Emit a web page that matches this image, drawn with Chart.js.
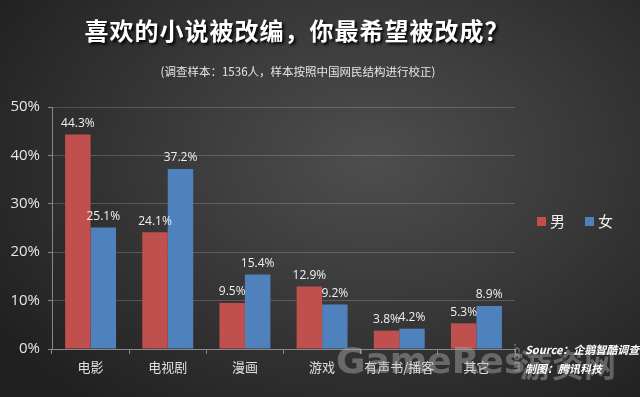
<!DOCTYPE html>
<html>
<head>
<meta charset="utf-8">
<script src="https://cdn.jsdelivr.net/npm/chart.js@4"></script>
<style>
  html, body { margin: 0; padding: 0; }
  body {
    width: 640px; height: 397px; overflow: hidden; position: relative;
    background: radial-gradient(ellipse 70% 80% at 58% 40%, #4e4e4e 0%, #3a3a3a 45%, #202020 100%);
    font-family: "Noto Sans CJK SC", "Noto Sans", sans-serif;
  }
  #wrap { position: absolute; left: 0; top: 0; width: 640px; height: 397px; }
  .title {
    position: absolute; left: 0; width: 594px; top: 12px; text-align: center;
    color: #fff; font-size: 24px; font-weight: bold; letter-spacing: 1px; text-shadow: 2px 2px 3px #000;
  }
  .sub {
    position: absolute; left: 0; width: 596px; top: 63px; text-align: center;
    color: #e6e6e6; font-size: 11.5px;
  }
  .legend { position: absolute; top: 210px; left: 537px; color: #eee; font-size: 15px; }
  .legend span.box { display: inline-block; width: 9px; height: 9px; margin-right: 4px; vertical-align: 1px; }
  .src { position: absolute; left: 525px; color: #fff; font-size: 11px; font-style: italic; font-weight: bold; }
  .wm { position: absolute; color: rgba(190,190,190,0.4); font-family: "DejaVu Sans", sans-serif; font-weight: bold; }
</style>
</head>
<body>
<div id="wrap"><canvas id="myChart" width="640" height="397"></canvas></div>
<div class="title">喜欢的小说被改编，你最希望被改成？</div>
<div class="sub">(调查样本：1536人，样本按照中国网民结构进行校正)</div>
<div class="legend"><span class="box" style="background:#c0504d"></span>男<span style="display:inline-block;width:20px"></span><span class="box" style="background:#4f81bd"></span>女</div>
<div class="wm" style="left:336px; top:340px; font-size:36px;">GameRes</div>
<div class="wm" style="left:503px; top:351px; font-size:11px; transform:rotate(90deg);">.com</div>
<div class="wm" style="left:520px; top:340px; font-size:32px; font-family:'Noto Sans CJK SC';">游资网</div>
<div class="src" style="top:341px;">Source：企鹅智酷调查</div>
<div class="src" style="top:360px;">制图：腾讯科技</div>
<script>
// categories and series
var categories = ['电影', '电视剧', '漫画', '游戏', '有声书/播客', '其它'];
var male = [44.3, 24.1, 9.5, 12.9, 3.8, 5.3];
var female = [25.1, 37.2, 15.4, 9.2, 4.2, 8.9];
var yTicks = [0, 10, 20, 30, 40, 50];

// draw value labels above the bars
const barLabels = {
    id: 'barLabels',
    afterDatasetsDraw(chart) {
        const c = chart.ctx;
        c.save();
        c.fillStyle = '#f0f0f0';
        c.font = '12px "Open Sans", sans-serif';
        c.textAlign = 'center';
        c.textBaseline = 'bottom';
        chart.data.datasets.forEach(function (ds, i) {
            chart.getDatasetMeta(i).data.forEach(function (bar, j) {
                c.fillText(ds.data[j].toFixed(1) + '%', bar.x, bar.y - 5);
            });
        });
        c.restore();
    }
};

const ctx = document.getElementById('myChart').getContext('2d');
const myChart = new Chart(ctx, {
    type: 'bar',
    data: {
        labels: categories,
        datasets: [{
            label: '男',
            data: male,
            backgroundColor: '#c0504d'
        }, {
            label: '女',
            data: female,
            backgroundColor: '#4f81bd'
        }]
    },
    options: {
        responsive: false,
        animation: false,
        layout: { padding: { top: 107, right: 125, left: 0, bottom: 0 } },
        datasets: { bar: { categoryPercentage: 0.66, barPercentage: 1 } },
        plugins: {
            legend: { display: false },
            tooltip: { enabled: false }
        },
        scales: {
            x: {
                afterFit: function (s) { s.height = 48; },
                grid: { display: true, drawOnChartArea: false, color: '#888', tickLength: 5, offset: true },
                border: { color: '#888' },
                ticks: { color: '#e0e0e0', font: { size: 13, family: '"Noto Sans CJK SC", sans-serif' }, padding: 5 }
            },
            y: {
                min: 0,
                max: 50,
                afterFit: function (s) { s.width = 52; },
                afterBuildTicks: function (s) { s.ticks = yTicks.map(v => ({ value: v })); },
                grid: { color: 'rgba(255,255,255,0.18)', tickLength: 4, tickColor: '#888' },
                border: { color: '#888' },
                ticks: {
                    color: '#e6e6e6',
                    font: { size: 15, family: '"Open Sans", sans-serif' },
                    padding: 8,
                    callback: function (v) { return v + '%'; }
                }
            }
        }
    },
    plugins: [barLabels]
});
</script>
</body>
</html>
